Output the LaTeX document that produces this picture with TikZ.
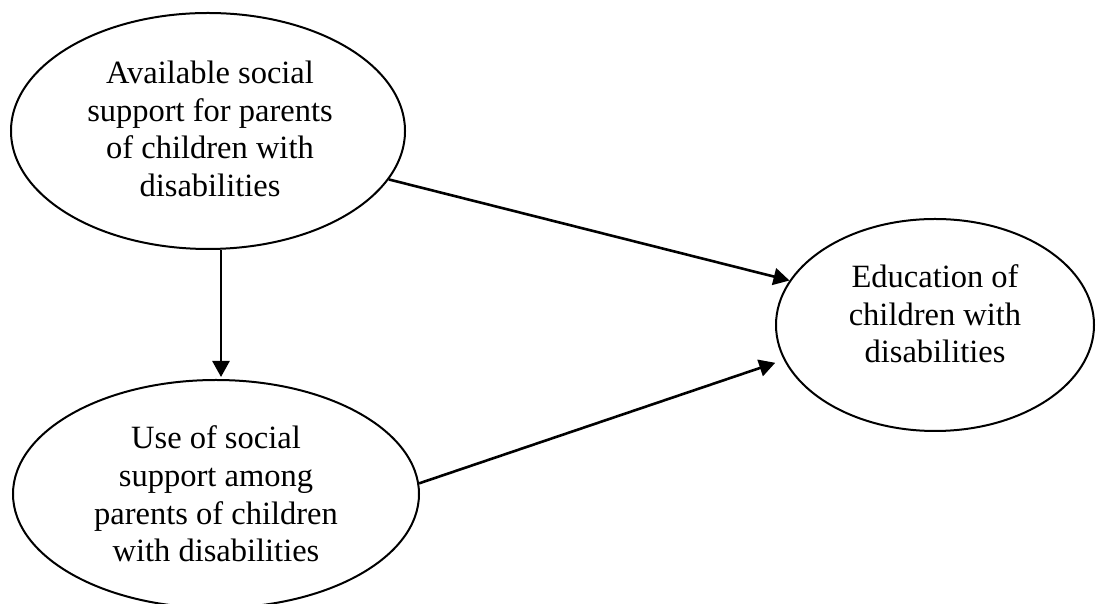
\documentclass[tikz,border=0pt]{standalone}
\usepackage{fontspec}
\setmainfont{Liberation Serif}
\usetikzlibrary{arrows.meta,shapes.geometric}
\begin{document}
\begin{tikzpicture}[x=1pt,y=1pt,
  oval/.style={draw=black, line width=2pt, ellipse, inner sep=0pt},
  lbl/.style={align=center, font=\fontsize{32.5}{37.7}\selectfont, inner sep=0pt},
  conn/.style={draw=black, line width=2.6pt, -{Triangle[length=16pt,width=17pt]}}]
\useasboundingbox (0,0) rectangle (1097,604);
\clip (0,0) rectangle (1097,604);
\fill[white] (0,0) rectangle (1097,604);
\node[oval, minimum width=394pt, minimum height=236pt] (top) at (208,473) {};
\node[oval, minimum width=406pt, minimum height=228pt] (bot) at (216,110) {};
\node[oval, minimum width=318pt, minimum height=212pt] (rgt) at (935,279) {};
\node[lbl] (toptxt) at (210,475) {Available social\\support for parents\\of children with\\disabilities};
\node[lbl] (bottxt) at (216,110) {Use of social\\support among\\parents of children\\with disabilities};
\node[lbl] (rgttxt) at (935,290) {Education of\\children with\\disabilities};
\draw[conn] ([xshift=13pt]top.south) -- ([xshift=5pt,yshift=2pt]bot.north);
\draw[conn] (top.-15.2) -- (rgt.163.6);
\draw[conn, shorten >=9pt] (bot.3.4) -- (rgt.193);
\end{tikzpicture}
\end{document}
